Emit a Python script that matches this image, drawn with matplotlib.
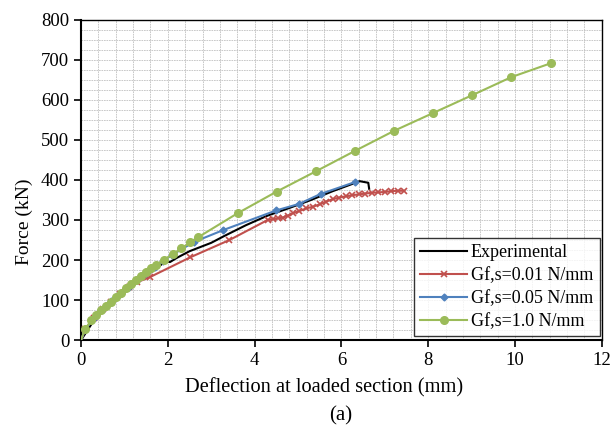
import matplotlib
matplotlib.use("Agg")
import matplotlib.pyplot as plt
from matplotlib.ticker import MultipleLocator

plt.rcParams['font.family'] = ['Liberation Serif', 'DejaVu Serif']

# experimental curve
exp_x = [0, 0.3, 0.6, 1.0, 1.5, 1.95, 2.05, 2.2, 2.5, 3.0, 3.3, 3.8, 4.3, 4.8, 5.3, 5.8, 6.2, 6.42, 6.62, 6.64]
exp_f = [0, 50, 85, 120, 160, 197, 195, 205, 222, 243, 260, 287, 311, 330, 350, 372, 388, 397, 393, 378]

# Gf,s = 0.01 N/mm
r_x = [0, 0.1, 0.3, 0.5, 0.7, 0.9, 1.1, 1.3, 1.58, 2.52, 3.42, 4.30, 4.42, 4.53, 4.65, 4.77, 4.88,
       5.03, 5.19, 5.34, 5.50, 5.65, 5.80, 5.95, 6.10, 6.25, 6.40, 6.55, 6.70, 6.85, 7.00, 7.15, 7.30, 7.45]
r_f = [0, 27, 56, 78, 96, 115, 132, 145, 157, 207, 250, 300, 302, 304, 306, 311, 317,
       322, 329, 333, 339, 346, 352, 356, 359, 362, 364, 366, 368, 369, 370, 372, 373, 373]

# Gf,s = 0.05 N/mm
b_x = [0, 0.1, 0.3, 0.5, 0.7, 0.9, 1.1, 1.3, 1.5, 1.7, 1.9, 2.1, 2.6, 3.28, 4.5, 5.02, 5.52, 6.32]
b_f = [0, 27, 55, 78, 97, 115, 133, 150, 167, 183, 198, 213, 245, 275, 324, 340, 365, 395]

# Gf,s = 1.0 N/mm
g_x = [0, 0.09, 0.24, 0.34, 0.46, 0.57, 0.69, 0.80, 0.92, 1.03, 1.15, 1.26, 1.38, 1.49, 1.61, 1.72,
       1.91, 2.11, 2.31, 2.52, 2.70, 3.61, 4.51, 5.42, 6.32, 7.22, 8.11, 9.02, 9.92, 10.84]
g_f = [0, 27, 50, 62, 75, 86, 96, 107, 118, 129, 139, 150, 160, 169, 179, 187,
       201, 214, 229, 244, 257, 317, 371, 422, 473, 523, 567, 612, 657, 692]

fig = plt.figure(figsize=(6.14, 4.4), dpi=100)
ax = fig.add_axes([0.132, 0.227, 0.848, 0.728])

ax.plot(exp_x, exp_f, color='black', lw=1.5, label='Experimental', zorder=3)
ax.plot(r_x, r_f, color='#C0504D', lw=1.5, marker='x', ms=4, mew=1.2, markevery=range(1, len(r_x)),
        label='Gf,s=0.01 N/mm', zorder=4)
ax.plot(b_x, b_f, color='#4F81BD', lw=1.5, marker='D', ms=3.5, markevery=range(1, len(b_x)),
        label='Gf,s=0.05 N/mm', zorder=5)
ax.plot(g_x, g_f, color='#9BBB59', lw=1.5, marker='o', ms=5.5, markevery=range(1, len(g_x)),
        label='Gf,s=1.0 N/mm', zorder=6)

ax.set_xlim(0, 12)
ax.set_ylim(0, 800)
ax.xaxis.set_major_locator(MultipleLocator(2))
ax.xaxis.set_minor_locator(MultipleLocator(0.4))
ax.yaxis.set_major_locator(MultipleLocator(100))
ax.yaxis.set_minor_locator(MultipleLocator(25))
ax.grid(True, which='both', color='#c0c0c0', ls=(0, (2, 1)), lw=0.6)
ax.set_axisbelow(True)
ax.tick_params(which='major', direction='out', length=5, width=1.2, labelsize=13.5, colors='black')
ax.tick_params(which='minor', length=0)
for s in ax.spines.values():
    s.set_color('black')
    s.set_linewidth(1)
ax.spines['left'].set_linewidth(1.5)
ax.spines['bottom'].set_linewidth(1.5)

ax.set_xlabel('Deflection at loaded section (mm)', fontsize=14.7)
ax.xaxis.set_label_coords(0.467, -0.118)
ax.set_ylabel('Force (kN)', fontsize=14)
ax.yaxis.set_label_coords(-0.092, 0.37)

leg = ax.legend(loc='lower right', fontsize=13, frameon=True, fancybox=False, edgecolor='black',
                handlelength=2.6, borderpad=0.35, labelspacing=0.33, handletextpad=0.2,
                borderaxespad=0, bbox_to_anchor=(0.996, 0.012))
leg.get_frame().set_linewidth(1)

fig.text(0.555, 0.055, '(a)', fontsize=15, ha='center', va='center')

fig.savefig('out.png', dpi=100)
